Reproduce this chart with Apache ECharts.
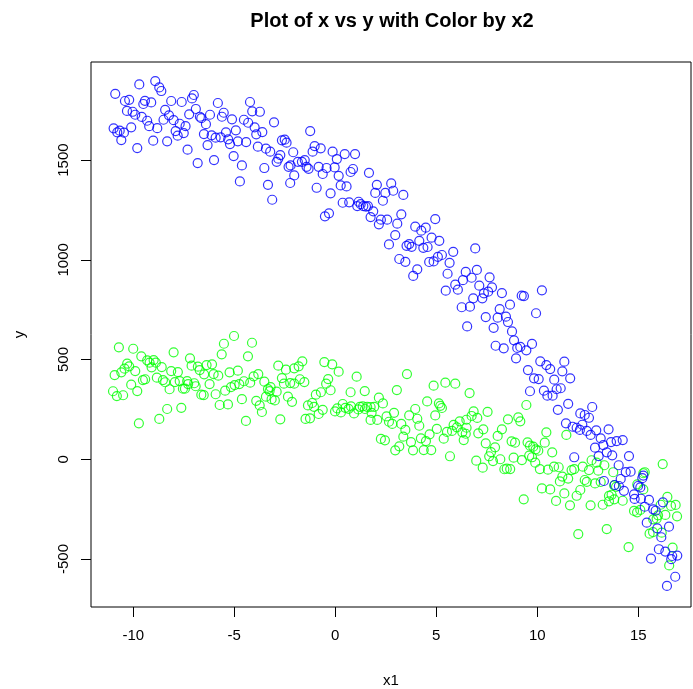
<!DOCTYPE html>
<html>
<head>
<meta charset="utf-8">
<script src="https://cdn.jsdelivr.net/npm/echarts@6.0.0/dist/echarts.min.js"></script>
<style>
html,body{margin:0;padding:0;background:#fff;}
#chart{width:693px;height:689px;}
</style>
</head>
<body>
<div id="chart"></div>
<script>
const xTicks = [-10, -5, 0, 5, 10, 15];
const yTicks = [-500, 0, 500, 1000, 1500];

const blueX = [
-10.89,-9.70,-8.91,-8.71,-8.61,-10.41,-10.20,-9.42,-9.50,-9.11,-8.12,-7.60,-7.09,-7.00,-5.81,-4.22,
-10.31,-10.03,-9.90,-9.58,-9.31,-9.21,-8.42,-8.23,-8.50,-8.00,-7.70,-7.41,-8.81,-7.90,-7.80,-7.50,
-10.97,-10.79,-10.67,-10.46,-10.59,-10.10,-9.80,-9.01,-8.32,-7.31,-6.81,-7.23,-6.90,-6.70,-6.63,-6.20,
-6.40,-5.61,-5.52,-5.11,-4.52,-4.31,-4.11,-3.73,-3.03,-3.99,-3.91,-3.61,-4.92,-5.41,-6.50,-6.12,
-5.92,-5.67,-6.32,-6.00,-5.30,-5.21,-4.82,-4.41,-3.83,-3.43,-3.22,-5.03,-4.62,-4.72,-3.51,-3.33,
-3.12,-2.90,-2.82,-2.72,-2.64,-2.50,-2.41,-2.08,-2.31,-2.21,-2.23,-2.03,
-1.24,-1.02,-1.12,-0.72,-0.13,0.08,0.47,0.98,-1.85,-1.65,-1.51,-1.42,-1.32,-0.82,-0.62,-0.43,
-0.03,0.17,0.76,0.88,1.67,-0.92,-0.23,0.27,0.56,0.37,0.69,1.16,1.26,1.09,1.39,1.52,
1.62,1.88,2.06,1.98,2.48,2.77,2.87,2.36,3.37,-0.51,-0.31,1.75,2.26,2.16,2.57,3.07,
3.27,2.97,2.66,3.96,4.26,4.48,4.95,4.16,4.77,5.15,3.53,3.66,3.78,4.36,4.57,5.84,
3.17,3.47,4.65,4.87,5.08,5.28,5.66,4.06,3.86,5.56,6.46,6.32,6.75,7.01,5.94,6.07,
5.47,6.83,6.93,7.13,
7.64,7.76,7.57,7.36,7.28,8.25,9.23,9.34,10.23,8.65,9.94,6.26,6.67,8.14,7.45,8.04,
8.45,8.55,6.53,7.84,8.75,8.85,7.94,8.34,9.01,9.16,9.46,9.74,8.95,10.15,10.45,10.64,
11.34,9.54,9.84,10.07,10.84,11.24,11.63,9.64,10.33,10.50,10.76,10.96,11.16,11.53,11.02,12.72,
12.13,12.35,12.56,11.42,11.75,11.95,12.11,12.23,12.45,12.64,12.92,13.53,13.14,13.27,12.86,13.65,
13.93,14.23,
11.83,13.04,13.44,13.71,14.54,14.03,14.38,14.62,15.25,15.20,13.30,14.13,13.83,14.04,14.99,15.10,
14.29,14.79,14.82,15.13,15.53,15.32,16.22,15.74,15.86,15.42,15.94,16.52,16.14,16.02,16.34,16.68,
16.93,16.63,15.63,16.83,16.42
];
const blueY = [
1832,1879,1896,1864,1846,1796,1802,1797,1781,1789,1796,1791,1809,1826,1786,1791,
1746,1742,1727,1716,1697,1670,1752,1724,1702,1700,1682,1670,1660,1645,1622,1635,
1659,1639,1647,1637,1600,1664,1560,1597,1594,1552,1485,1729,1756,1717,1710,1727,
1680,1717,1737,1704,1702,1687,1744,1742,1689,1664,1629,1640,1649,1639,1630,1624,
1612,1614,1575,1500,1604,1580,1594,1590,1567,1557,1542,1520,1473,1393,1460,1376,
1301,1491,1507,1525,1599,1602,1587,1539,1466,1473,1385,1423,
1645,1570,1542,1559,1542,1505,1530,1530,1491,1491,1500,1466,1456,1466,1430,1460,
1463,1421,1440,1455,1436,1361,1333,1373,1368,1286,1288,1291,1279,1269,1269,1266,
1269,1243,1376,1335,1335,1383,1346,1296,1325,1218,1233,1214,1201,1178,1201,1181,
1228,1124,1077,1166,1146,1161,1204,1095,1111,1095,1070,1079,1065,1060,1064,1040,
1004,990,989,992,1015,1024,985,952,919,930,939,898,910,949,875,850,
845,807,1057,870,
912,862,840,832,807,833,820,818,847,775,732,762,765,753,713,710,
715,688,666,659,641,596,569,556,558,563,546,578,506,491,472,452,
489,447,406,402,399,441,406,341,344,319,319,351,356,278,248,262,
230,222,208,180,163,158,147,173,142,122,145,150,105,71,58,86,
91,96,
10,16,35,20,16,-30,-64,-62,-82,-95,-109,-99,-129,-134,-134,-141,
-158,-176,-199,-198,-204,-238,-216,-251,-258,-318,-346,-338,-391,-451,-463,-485,
-483,-501,-498,-589,-635
];

const greenX = [
-10.71,-10.00,-9.60,-9.31,-9.19,-8.99,-8.88,-9.09,-8.59,-8.00,-10.30,-10.20,-10.43,-10.59,-10.92,-9.90,
-10.10,-11.00,-10.81,-10.50,-9.80,-9.52,-9.41,-8.83,-8.53,-8.42,-8.20,-8.12,-7.79,-7.94,-7.70,-7.33,
-7.28,-6.98,-6.91,-7.54,-7.44,-7.19,-7.11,-6.80,-6.71,-6.37,-6.10,-6.49,-6.02,-5.79,-6.22,-6.63,
-6.51,-5.92,-8.32,-7.62,-8.71,-9.72,-5.72,-5.31,-5.45,-5.16,-4.98,-4.75,-4.52,-4.21,-5.23,-4.82,
-5.62,-5.51,-5.01,-4.32,-4.12,-4.04,-3.81,-3.51,-4.62,-3.91,-3.74,-3.63,-4.42,-3.33,-3.20,-3.25,
-3.43,-3.15,-2.99,-2.90,-2.82,-2.44,-2.64,-2.54,-2.23,-2.34,-2.14,-2.72,-2.03,-2.03,
-1.63,-1.81,-1.75,-1.53,-0.54,-0.15,0.17,-0.35,-0.45,-0.23,1.06,0.76,1.46,-0.96,-0.71,-1.35,
-1.14,-1.05,-0.62,-0.82,-1.47,-1.25,-0.01,0.10,0.28,0.37,0.50,0.66,0.78,0.93,1.14,1.22,
1.36,1.47,1.58,1.75,1.93,2.16,2.36,1.80,1.75,2.08,3.05,3.55,2.54,2.66,2.82,2.91,
2.26,2.46,3.27,3.47,3.37,3.66,3.96,4.06,4.16,2.97,3.17,3.85,3.75,4.24,4.38,4.49,
4.75,4.67,5.03,4.55,4.95,4.87,5.45,5.94,5.13,5.28,5.20,5.37,5.53,5.78,5.86,6.02,
6.16,6.29,6.46,6.50,6.36,5.68,6.65,6.49,6.75,6.85,7.03,7.08,6.98,
9.46,7.54,8.55,9.06,9.16,7.33,8.25,8.04,7.45,7.91,8.73,8.90,9.52,9.64,9.80,9.92,
10.05,10.37,10.45,11.44,10.74,7.71,7.62,7.81,8.17,7.30,8.83,9.24,9.60,9.74,9.90,8.37,
8.49,8.66,10.13,10.53,10.83,11.06,11.24,11.12,11.53,11.70,11.83,12.25,12.69,12.94,13.02,13.32,
12.56,12.35,12.45,12.86,13.14,13.76,13.81,13.90,12.13,11.95,11.34,10.93,11.62,10.23,10.64,9.33,
12.64,13.24,13.55,13.68,13.81,13.55,14.23,15.25,15.32,14.95,15.25,16.21,14.79,14.94,15.10,16.11,
16.44,16.62,16.85,16.92,15.98,15.74,15.91,16.34,15.56,15.73,16.16,13.44,12.03,14.52,16.70,16.53
];
const greenY = [
561,554,516,496,484,497,484,461,462,536,479,466,454,436,422,442,
374,341,317,321,342,397,401,409,397,386,351,442,437,387,392,392,
377,381,366,354,354,506,469,464,447,472,476,426,427,419,377,324,
322,326,252,258,202,180,272,275,344,362,372,377,391,384,436,444,
526,579,618,516,584,416,427,389,301,293,270,237,192,352,362,342,
314,301,295,339,469,449,407,379,382,314,288,200,456,379,
491,466,401,387,487,476,439,402,379,346,414,336,342,324,336,270,
282,263,248,227,202,205,240,255,235,277,258,253,265,230,250,263,
265,252,263,262,263,309,280,233,197,197,347,427,215,188,177,233,
102,95,177,147,113,220,252,203,168,45,65,45,86,105,46,91,
46,125,152,290,220,369,384,379,280,257,268,103,137,142,172,160,
190,135,128,158,96,15,332,198,217,240,207,130,-7,
272,238,200,210,190,150,150,117,80,60,90,83,85,68,63,50,
43,83,135,122,35,36,15,-9,0,-42,8,-4,18,10,-17,-50,
-47,-49,-49,-52,-37,-40,-87,-111,-97,-54,-49,-37,-5,-17,-57,-30,
-54,-104,-113,-121,-114,-65,-131,-138,-154,-183,-171,-209,-231,-146,-151,-201,
-231,-228,-184,-178,-201,-211,-208,-70,-65,-126,-151,-24,-259,-266,-254,-228,
-189,-234,-229,-286,-281,-301,-298,-279,-373,-365,-368,-350,-375,-440,-443,-532
];

const titleText = 'Plot of x vs y with Color by x2';
const xName = 'x1';
const yName = 'y';

const blueData = blueX.map((x, i) => [x, blueY[i]]);
const greenData = greenX.map((x, i) => [x, greenY[i]]);

const chart = echarts.init(document.getElementById('chart'), null, {renderer: 'canvas'});
const font = 'Liberation Sans, Arial, Helvetica, sans-serif';
const pointStyle = (c) => ({color: 'rgba(0,0,0,0)', borderColor: c, borderWidth: 1.2});
const plain = (v) => String(v);

chart.setOption({
  animation: false,
  backgroundColor: '#ffffff',
  textStyle: {fontFamily: font},
  title: {
    text: titleText,
    left: 387,
    top: 6,
    textAlign: 'center',
    textStyle: {fontFamily: font, fontWeight: 'bold', fontSize: 20, color: '#000'}
  },
  grid: {left: 91, right: 2, top: 62, bottom: 82, show: true, borderColor: '#000', borderWidth: 1,
         backgroundColor: 'rgba(0,0,0,0)', containLabel: false, outerBoundsMode: 'none'},
  xAxis: {
    type: 'value', min: -12.09, max: 17.61,
    splitLine: {show: false},
    axisLine: {show: false, onZero: false},
    axisTick: {show: true, inside: false, length: 10, customValues: xTicks, lineStyle: {color: '#000', width: 1}},
    axisLabel: {customValues: xTicks, fontSize: 15, color: '#000', margin: 21, fontFamily: font, formatter: plain},
    name: xName, nameLocation: 'middle', nameGap: 66,
    nameTextStyle: {fontSize: 15, color: '#000', fontFamily: font}
  },
  yAxis: {
    type: 'value', min: -740.6, max: 1991.5,
    splitLine: {show: false},
    axisLine: {show: false, onZero: false},
    axisTick: {show: true, inside: false, length: 10, customValues: yTicks, lineStyle: {color: '#000', width: 1}},
    axisLabel: {customValues: yTicks, fontSize: 15, color: '#000', margin: 20, rotate: 90, fontFamily: font, formatter: plain},
    name: yName, nameLocation: 'middle', nameGap: 64,
    nameTextStyle: {fontSize: 15, color: '#000', fontFamily: font}
  },
  series: [
    {type: 'scatter', data: greenData, symbol: 'circle', symbolSize: 9, itemStyle: pointStyle('#00ff00'), z: 2},
    {type: 'scatter', data: blueData, symbol: 'circle', symbolSize: 9, itemStyle: pointStyle('#0000ff'), z: 3}
  ]
});
</script>
</body>
</html>
